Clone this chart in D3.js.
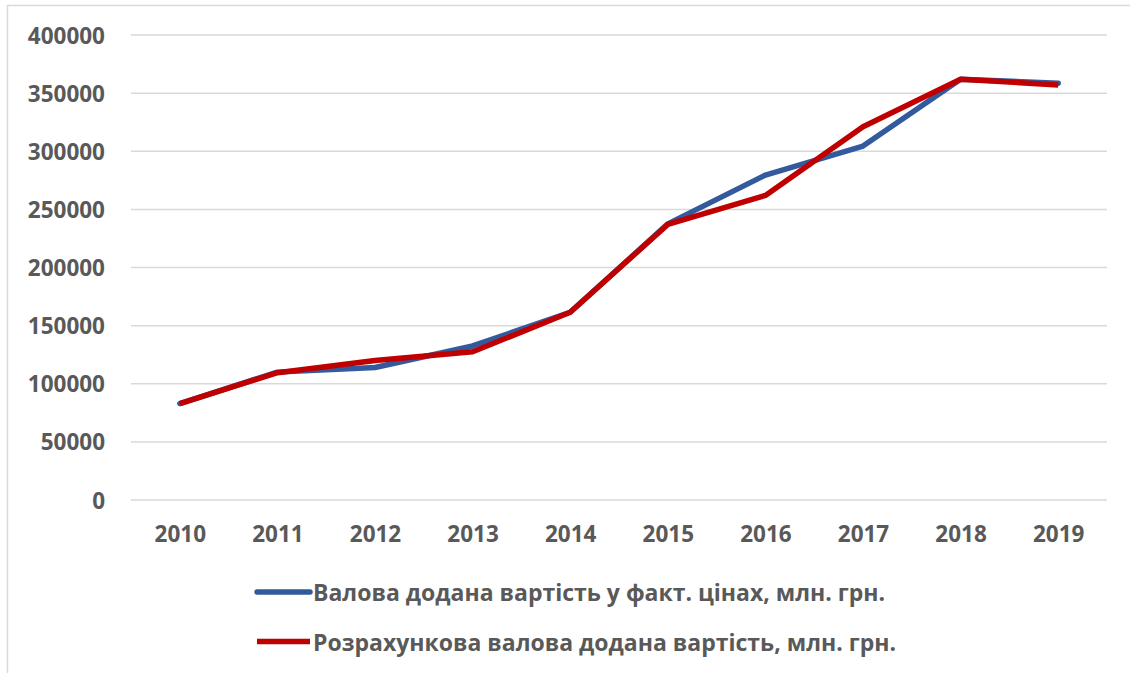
<!DOCTYPE html>
<meta charset="utf-8">
<style>
    body {
        margin: 0;
        padding: 0;
        background: #fff;
    }
    text {
        font-family: "Open Sans", "Noto Sans", sans-serif;
        font-weight: 700;
        fill: #595959;
    }
    .grid line {
        stroke: #d9d9d9;
        stroke-width: 1.5;
    }
</style>
<body>
<script src="https://d3js.org/d3.v7.min.js"></script>
<script>
    // data
    var years = ["2010", "2011", "2012", "2013", "2014", "2015", "2016", "2017", "2018", "2019"];
    var actual = [83000, 110000, 114000, 132500, 161500, 237500, 279500, 304500, 362000, 358500];
    var estimated = [83000, 109500, 120000, 127500, 161500, 237000, 262000, 321000, 362000, 357000];
    var seriesNames = ["Валова додана вартість у факт. цінах, млн. грн.",
                       "Розрахункова валова додана вартість, млн. грн."];
    var colors = ["#335a9c", "#c00000"];
    var yTicks = d3.range(0, 400001, 50000);

    var width = 1130, height = 673;
    var plot = {left: 131, right: 1107, top: 35, bottom: 500};

    var svg = d3.select("body")
        .append("svg")
        .attr("width", width)
        .attr("height", height);

    // chart frame
    svg.append("rect")
        .attr("x", 7.5)
        .attr("y", 5.5)
        .attr("width", 1140)
        .attr("height", 700)
        .style("fill", "none")
        .style("stroke", "#d9d9d9")
        .style("stroke-width", 1.5);

    var x = d3.scalePoint()
        .domain(years)
        .range([plot.left, plot.right])
        .padding(0.5);

    var y = d3.scaleLinear()
        .domain([0, 400000])
        .range([plot.bottom, plot.top]);

    // gridlines
    svg.append("g")
        .attr("class", "grid")
        .selectAll("line")
        .data(yTicks)
        .enter().append("line")
        .attr("x1", plot.left)
        .attr("x2", plot.right)
        .attr("y1", function(d) { return y(d); })
        .attr("y2", function(d) { return y(d); });

    // y axis labels
    var yAxis = d3.axisLeft(y)
        .tickValues(yTicks)
        .tickSize(0)
        .tickPadding(0)
        .tickFormat(d3.format("d"));
    var gy = svg.append("g")
        .attr("transform", "translate(105,0)")
        .call(yAxis);
    gy.select(".domain").remove();
    gy.selectAll("text")
        .attr("dy", "0.36em")
        .style("font-size", "22.5px")
        .style("font-family", null)
        .attr("fill", null);

    // x axis labels
    var xAxis = d3.axisBottom(x).tickSize(0).tickPadding(0);
    var gx = svg.append("g")
        .attr("transform", "translate(0,542)")
        .call(xAxis);
    gx.select(".domain").remove();
    gx.selectAll("text")
        .attr("dy", null)
        .attr("y", 0)
        .style("font-size", "22.5px")
        .style("font-family", null)
        .attr("fill", null);

    var line = d3.line()
        .x(function(d, i) { return x(years[i]); })
        .y(function(d) { return y(d); });

    [actual, estimated].forEach(function(s, i) {
        svg.append("path")
            .datum(s)
            .attr("d", line)
            .style("fill", "none")
            .style("stroke", colors[i])
            .style("stroke-width", 5.5)
            .style("stroke-linejoin", "round")
            .style("stroke-linecap", i === 0 ? "round" : "butt");
    });

    // legend
    var legend = svg.append("g")
        .selectAll("g")
        .data(seriesNames)
        .enter().append("g")
        .attr("transform", function(d, i) { return "translate(255," + (592 + i * 49.5) + ")"; });

    legend.append("line")
        .attr("x1", 2)
        .attr("x2", 55)
        .style("stroke", function(d, i) { return colors[i]; })
        .style("stroke-width", 5.5)
        .style("stroke-linecap", function(d, i) { return i === 0 ? "round" : "butt"; });

    legend.append("text")
        .attr("x", 58)
        .attr("y", 9)
        .style("font-size", "23px")
        .text(function(d) { return d; });
</script>
</body>
</html>
